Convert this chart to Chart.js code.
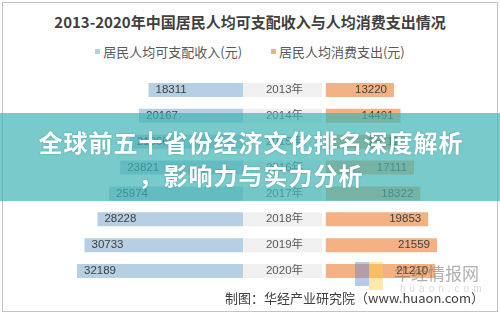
<!DOCTYPE html>
<html>
<head>
<meta charset="utf-8">
<script src="https://cdn.jsdelivr.net/npm/chart.js@4.4.1/dist/chart.umd.min.js"></script>
<style>
  html, body { margin: 0; padding: 0; background: #fff; }
  body { width: 500px; height: 314px; position: relative; overflow: hidden;
         font-family: "Noto Sans CJK SC", "Liberation Sans", sans-serif; }
  .frame { position: absolute; left: 2px; top: 2px; width: 494px; height: 308px; border: 1px solid #c4c4c4; }
  .title { position: absolute; left: 0; width: 500px; top: 11px; text-align: center;
           font-size: 15px; font-weight: bold; color: #404040; line-height: 22px; }
  .legend { position: absolute; left: 0; width: 500px; top: 43px; text-align: center;
            font-size: 13px; color: #595959; line-height: 18px; }
  .legend span.item { display: inline-block; margin: 0 13px; }
  .legend i { display: inline-block; width: 5px; height: 5px; margin-right: 3px; vertical-align: 3px; }
  #wrap { position: absolute; left: 30px; top: 77px; width: 440px; height: 207px; }
  .source { position: absolute; right: 16px; top: 289px; font-size: 13px; color: #404040; line-height: 18px; }
  .wm-logo-a { position: absolute; left: 355px; top: 262px; width: 14px; height: 24px; background: rgba(95,135,215,0.45); }
  .wm-logo-b { position: absolute; left: 369px; top: 262px; width: 14px; height: 28px; background: rgba(255,205,70,0.45); }
  .wm-text { position: absolute; left: 394px; top: 262px; font-size: 17px; color: rgba(110,110,110,0.55); line-height: 22px; }
  .wm-url { position: absolute; left: 400px; top: 283px; font-size: 10px; letter-spacing: 4px; color: rgba(150,150,150,0.35); font-family: "Liberation Sans", sans-serif; }
  .overlay { position: absolute; left: 0; top: 113px; width: 500px; height: 88px; background: rgba(64,180,180,0.7); }
  .overlay div { position: absolute; left: 0; width: 502px; text-align: center; color: #fff;
                 font-weight: bold; font-size: 24px; letter-spacing: 1px; line-height: 30px;
                 text-shadow: 0 0 2px rgba(0,80,80,0.35); }
</style>
</head>
<body>
<div class="frame"></div>
<div class="title">2013-2020年中国居民人均可支配收入与人均消费支出情况</div>
<div class="legend">
  <span class="item"><i style="background:#b6cfe2"></i>居民人均可支配收入(元)</span>
  <span class="item"><i style="background:#f4b183"></i>居民人均消费支出(元)</span>
</div>
<div id="wrap"><canvas id="chart" width="440" height="207"></canvas></div>
<div class="wm-logo-a"></div><div class="wm-logo-b"></div>
<div class="wm-text">华经情报网</div>
<div class="wm-url">huaon.com</div>
<div class="source">制图：华经产业研究院（www.huaon.com）</div>
<div class="overlay">
  <div style="top:14px">全球前五十省份经济文化排名深度解析</div>
  <div style="top:47px">，影响力与实力分析</div>
</div>
<script>
// data
const years = ['2013年', '2014年', '2015年', '2016年', '2017年', '2018年', '2019年', '2020年'];
const income = [18311, 20167, 21966, 23821, 25974, 28228, 30733, 32189];
const consumption = [13220, 14491, 15712, 17111, 18322, 19853, 21559, 21210];

// middle column (year labels) width and where the right side starts, in axis units
const BAND = 15320;
const RIGHT_START = 16060;

const BLUE = '#b6cfe2';
const ORANGE = '#f4b183';
const GREY = '#f0f0f0';

const labelPlugin = {
  id: 'barLabels',
  afterDatasetsDraw(chart) {
    const ctx = chart.ctx;
    ctx.save();
    ctx.font = '11.5px "Liberation Sans", "Noto Sans CJK SC", sans-serif';
    ctx.fillStyle = '#404040';
    ctx.textBaseline = 'middle';
    chart.data.datasets.forEach((ds, di) => {
      chart.getDatasetMeta(di).data.forEach((bar, i) => {
        const left = Math.min(bar.x, bar.base);
        const right = Math.max(bar.x, bar.base);
        if (ds.key === 'income') {
          ctx.textAlign = 'left';
          ctx.fillText(String(income[i]), left + 7, bar.y);
        } else if (ds.key === 'band') {
          ctx.textAlign = 'center';
          ctx.fillStyle = '#595959';
          ctx.fillText(years[i], (left + right) / 2 + 2, bar.y);
          ctx.fillStyle = '#404040';
        } else {
          ctx.textAlign = 'right';
          ctx.fillText(String(consumption[i]), right - 7, bar.y);
        }
      });
    });
    ctx.restore();
  }
};

new Chart(document.getElementById('chart'), {
  type: 'bar',
  data: {
    labels: years,
    datasets: [
      { key: 'income', label: '居民人均可支配收入(元)', data: income.map(v => [-v, 0]), backgroundColor: BLUE },
      { key: 'band', label: '', data: years.map(() => [0, BAND]), backgroundColor: GREY },
      { key: 'cons', label: '居民人均消费支出(元)', data: consumption.map(v => [RIGHT_START, RIGHT_START + v]), backgroundColor: ORANGE },
    ]
  },
  options: {
    indexAxis: 'y',
    responsive: false,
    animation: false,
    layout: { padding: 0 },
    datasets: { bar: { grouped: false, categoryPercentage: 1, barPercentage: 0.54, borderWidth: 0 } },
    plugins: { legend: { display: false }, title: { display: false }, tooltip: { enabled: false } },
    scales: {
      x: { display: false, min: -41300, max: 44020 },
      y: { display: false }
    }
  },
  plugins: [labelPlugin]
});
</script>
</body>
</html>
